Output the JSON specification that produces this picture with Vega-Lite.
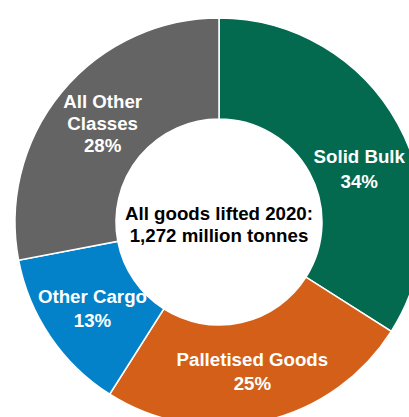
{
  "$schema": "https://vega.github.io/schema/vega-lite/v6.json",
  "width": 438,
  "height": 444,
  "autosize": "none",
  "padding": 0,
  "background": "white",
  "config": {"view": {"stroke": null}, "font": "Liberation Sans"},
  "data": {"values": [
    {"category": "Solid Bulk", "share": 34, "label": "Solid Bulk\n34%"},
    {"category": "Palletised Goods", "share": 25, "label": "Palletised Goods\n25%"},
    {"category": "Other Cargo", "share": 13, "label": "Other Cargo\n13%"},
    {"category": "All Other Classes", "share": 28, "label": "All Other\nClasses\n28%"}
  ]},
  "layer": [
    {
      "mark": {"type": "arc", "outerRadius": 204, "innerRadius": 103, "stroke": "white", "strokeWidth": 1.5},
      "encoding": {
        "theta": {"field": "share", "type": "quantitative", "stack": true},
        "order": {"field": "category", "sort": "descending"},
        "color": {
          "field": "category", "type": "nominal", "legend": null,
          "scale": {
            "domain": ["Solid Bulk", "Palletised Goods", "Other Cargo", "All Other Classes"],
            "range": ["#03694F", "#D35F19", "#0382CA", "#646464"]
          }
        }
      }
    },
    {
      "mark": {"type": "text", "radius": 150, "thetaOffset": 0.14, "dy": -12, "fontSize": 18.7, "fontWeight": "bold", "color": "white", "lineBreak": "\n", "lineHeight": 25, "align": "center", "baseline": "middle"},
      "encoding": {
        "theta": {"field": "share", "type": "quantitative", "stack": true},
        "order": {"field": "category", "sort": "descending"},
        "detail": {"field": "category"},
        "text": {"condition": {"test": "datum.category === 'Solid Bulk'", "field": "label"}, "value": ""}
      }
    },
    {
      "mark": {"type": "text", "radius": 153, "dy": -11, "fontSize": 18.7, "fontWeight": "bold", "color": "white", "lineBreak": "\n", "lineHeight": 24, "align": "center", "baseline": "middle"},
      "encoding": {
        "theta": {"field": "share", "type": "quantitative", "stack": true},
        "order": {"field": "category", "sort": "descending"},
        "detail": {"field": "category"},
        "text": {"condition": {"test": "datum.category === 'Palletised Goods' || datum.category === 'Other Cargo'", "field": "label"}, "value": ""}
      }
    },
    {
      "mark": {"type": "text", "radius": 151, "dy": -24, "fontSize": 18.7, "fontWeight": "bold", "color": "white", "lineBreak": "\n", "lineHeight": 22, "align": "center", "baseline": "middle"},
      "encoding": {
        "theta": {"field": "share", "type": "quantitative", "stack": true},
        "order": {"field": "category", "sort": "descending"},
        "detail": {"field": "category"},
        "text": {"condition": {"test": "datum.category === 'All Other Classes'", "field": "label"}, "value": ""}
      }
    },
    {
      "data": {"values": [{"title": "All goods lifted 2020:\n1,272 million tonnes"}]},
      "mark": {"type": "text", "dy": -8, "fontSize": 18.7, "fontWeight": "bold", "color": "black", "lineBreak": "\n", "lineHeight": 22, "align": "center", "baseline": "middle"},
      "encoding": {"text": {"field": "title"}}
    }
  ]
}
